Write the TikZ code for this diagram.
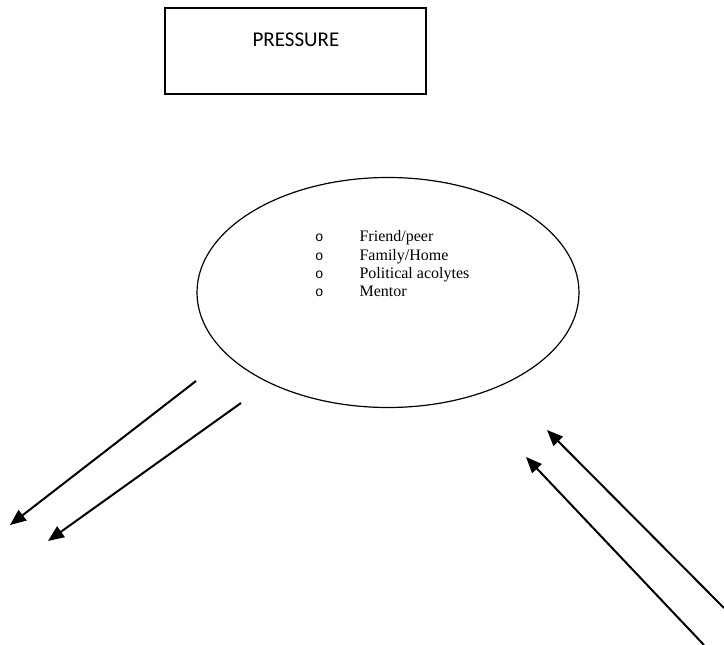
\documentclass[tikz,border=0pt]{standalone}
\usepackage{fontspec}
\setmainfont{Liberation Serif}
\newfontfamily\calib{Carlito}
\newfontfamily\monob{Liberation Mono}
\usetikzlibrary{arrows.meta,shapes.geometric}
\tikzset{
  titlebox/.style={draw, line width=1.3pt, minimum width=261pt, minimum height=86pt, inner sep=0pt},
  oval/.style={draw, ellipse, line width=1.2pt, minimum width=382pt, minimum height=230pt, inner sep=0pt},
  flow/.style={line width=2pt, -{Triangle[length=16pt,width=13pt]}},
}
\begin{document}
\begin{tikzpicture}[x=1pt,y=-1pt]
\useasboundingbox (0,0) rectangle (724,645);
\node[titlebox] (box) at (295.5,51) {};
\node[font=\calib\fontsize{21}{25}\selectfont] (ptxt) at (296,40) {PRESSURE};
\node[oval] (ell) at (388,292.5) {};
\node[anchor=north west, inner sep=0pt, font=\fontsize{16}{18.2}\selectfont] (list) at (315,229)
  {\begin{tabular}{@{}l@{\hspace{36pt}}l@{}}
   {\monob\fontsize{14}{14}\selectfont o} & Friend/peer\\
   {\monob\fontsize{14}{14}\selectfont o} & Family/Home\\
   {\monob\fontsize{14}{14}\selectfont o} & Political acolytes\\
   {\monob\fontsize{14}{14}\selectfont o} & Mentor
   \end{tabular}};
\coordinate (l1s) at (196,381);
\coordinate (l1e) at (10,525);
\coordinate (l2s) at (241,403);
\coordinate (l2e) at (48,541);
\coordinate (r1s) at (724,608);
\coordinate (r1e) at (547,430);
\coordinate (r2s) at (704,645);
\coordinate (r2e) at (526,457);
\draw[flow] (l1s) -- (l1e);
\draw[flow] (l2s) -- (l2e);
\draw[flow] (r1s) -- (r1e);
\draw[flow] (r2s) -- (r2e);
\end{tikzpicture}
\end{document}
